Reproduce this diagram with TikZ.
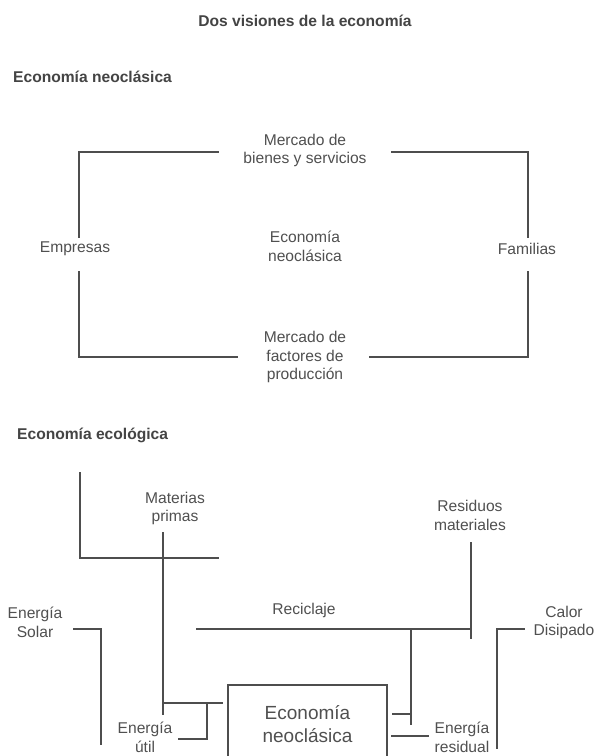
\documentclass[tikz,border=0pt]{standalone}
\usepackage{fontspec}
\setmainfont{Liberation Sans}
\definecolor{linegray}{HTML}{4E4E4E}
\definecolor{textgray}{HTML}{505050}
\begin{document}
\begin{tikzpicture}[x=1pt,y=-1pt,
  lbl/.style={align=center,inner sep=0pt,text=textgray,font=\fontsize{15.6}{18.7}\selectfont},
  head/.style={inner sep=0pt,text=textgray!85!black,font=\fontsize{15.6}{18.7}\selectfont\bfseries},
  big/.style={align=center,inner sep=0pt,text=textgray,font=\fontsize{19}{23}\selectfont},
  ln/.style={draw=linegray,line width=2pt,line cap=rect,line join=miter}]
\useasboundingbox (0,0) rectangle (595,756);
\clip (0,0) rectangle (595,756);
\fill[white] (0,0) rectangle (595,756);

% titles
\node[head] (title) at (305,21) {Dos visiones de la economía};
\node[head,anchor=west] (h1) at (13,77) {Economía neoclásica};
\node[head,anchor=west] (h2) at (17,435) {Economía ecológica};

% top diagram
\node[lbl] (mb) at (305,150.5) {Mercado de\\bienes y servicios};
\node[lbl] (en) at (305,246) {Economía\\neoclásica};
\node[lbl] (mf) at (305,357) {Mercado de\\factores de\\producción};
\node[lbl] (emp) at (75,249) {Empresas};
\node[lbl] (fam) at (527,249) {Familias};

\coordinate (tl1) at (218,152); \coordinate (tl2) at (79,152); \coordinate (tl3) at (79,237);
\coordinate (tr1) at (392,152); \coordinate (tr2) at (528,152); \coordinate (tr3) at (528,237);
\coordinate (bl1) at (79,272); \coordinate (bl2) at (79,357); \coordinate (bl3) at (237,357);
\coordinate (br1) at (370,357); \coordinate (br2) at (528,357); \coordinate (br3) at (528,272);
\draw[ln] (tl1) -- (tl2) -- (tl3);
\draw[ln] (tr1) -- (tr2) -- (tr3);
\draw[ln] (bl1) -- (bl2) -- (bl3);
\draw[ln] (br1) -- (br2) -- (br3);

% bottom diagram
\node[lbl] (mp) at (175,508.5) {Materias\\primas};
\node[lbl] (rm) at (470,515.5) {Residuos\\materiales};
\node[lbl] (rec) at (304,610) {Reciclaje};
\node[lbl] (es) at (35,622.5) {Energía\\Solar};
\node[lbl] (cd) at (564,622.5) {Calor\\Disipado};
\node[lbl] (eu) at (145,737) {Energía\\útil};
\node[lbl] (er) at (462,737) {Energía\\residual};

\draw[ln] (228,685) rectangle (387,775);
\node[big] (box) at (307.5,724) {Economía\\neoclásica};

\coordinate (a1) at (80,473); \coordinate (a2) at (80,558); \coordinate (a3) at (218,558);
\draw[ln] (a1) -- (a2) -- (a3);
\coordinate (m1) at (163,533); \coordinate (m2) at (163,714);
\draw[ln] (m1) -- (m2);
\coordinate (m3) at (163,703); \coordinate (m4) at (222,703);
\draw[ln] (m3) -- (m4);
\coordinate (u1) at (207,703); \coordinate (u2) at (207,739); \coordinate (u3) at (179,739);
\draw[ln] (u1) -- (u2) -- (u3);
\coordinate (s1) at (74,629); \coordinate (s2) at (101,629); \coordinate (s3) at (101,744);
\draw[ln] (s1) -- (s2) -- (s3);
\coordinate (r1) at (197,629); \coordinate (r2) at (471,629);
\draw[ln] (r1) -- (r2);
\coordinate (w1) at (471,543); \coordinate (w2) at (471,638);
\draw[ln] (w1) -- (w2);
\coordinate (k1) at (411,629); \coordinate (k2) at (411,724);
\draw[ln] (k1) -- (k2);
\coordinate (k3) at (393,714); \coordinate (k4) at (411,714);
\draw[ln] (k3) -- (k4);
\coordinate (e1) at (392,736); \coordinate (e2) at (428,736);
\draw[ln] (e1) -- (e2);
\coordinate (c1) at (524,629); \coordinate (c2) at (497,629); \coordinate (c3) at (497,748);
\draw[ln] (c1) -- (c2) -- (c3);
\end{tikzpicture}
\end{document}
